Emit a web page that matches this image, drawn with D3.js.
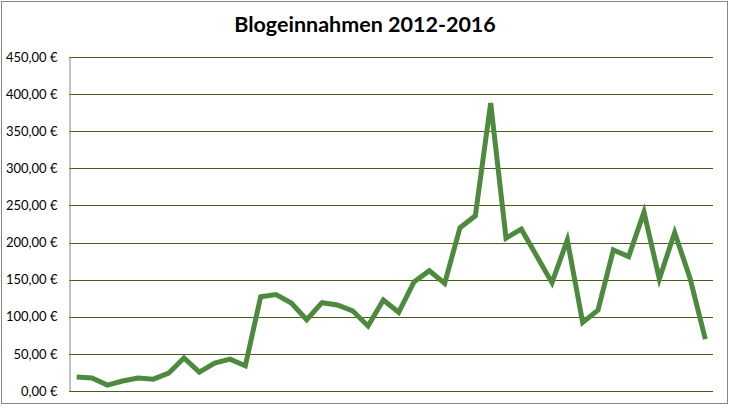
<!DOCTYPE html>
<html>
<head>
<meta charset="utf-8">
<script src="https://cdn.jsdelivr.net/npm/d3@7"></script>
<style>
  html, body { margin: 0; padding: 0; background: #fff; }
  svg { display: block; }
</style>
</head>
<body>
<script>
const title = "Blogeinnahmen 2012-2016";
const months = d3.range(1, 43).map(i => "M" + i);
const earnings = [19, 17.5, 8, 13.5, 17.5, 16, 24, 44.5, 25.5, 37.5, 43, 34,
  127, 130, 118.5, 96, 119, 116, 108, 87.5, 122.5, 106, 147, 162, 145,
  220, 236, 388, 206, 218, 182, 146, 203.5, 92.5, 109, 190, 181, 241,
  151, 213.5, 152, 70];
const yTicks = [0, 50, 100, 150, 200, 250, 300, 350, 400, 450];

const W = 730, H = 408;
const margin = { left: 69, right: 17, top: 57, bottom: 17 };
const svg = d3.select("body").append("svg").attr("width", W).attr("height", H);

svg.append("rect").attr("x", 1.5).attr("y", 1.5).attr("width", 726).attr("height", 402)
  .attr("fill", "#fff").attr("stroke", "#868686").attr("stroke-width", 1);

const x = d3.scalePoint().domain(months).range([margin.left, W - margin.right]).padding(0.5);
const y = d3.scaleLinear().domain([0, 450]).range([391, 57]);

const fmt = v => d3.format(".2f")(v).replace(".", ",") + " €";

// gridlines
svg.append("g").selectAll("line").data(yTicks).join("line")
  .attr("x1", margin.left).attr("x2", W - margin.right)
  .attr("y1", d => Math.round(y(d)) + 0.5).attr("y2", d => Math.round(y(d)) + 0.5)
  .attr("stroke", "#4a5e1c").attr("stroke-width", 1);

// y axis
const yAxis = d3.axisLeft(y).tickValues(yTicks).tickFormat(fmt).tickSize(0).tickPadding(12);
const gy = svg.append("g").attr("transform", `translate(${margin.left + 0.5},0)`).call(yAxis);
gy.select(".domain").attr("stroke", "#868686");
gy.selectAll("text").attr("font-family", "Lato, 'Open Sans', sans-serif")
  .attr("font-size", 13).attr("fill", "#000");

// line
svg.append("path").datum(earnings)
  .attr("fill", "none").attr("stroke", "#4e8a3e").attr("stroke-width", 5)
  .attr("stroke-linejoin", "miter").attr("stroke-linecap", "butt")
  .attr("d", d3.line().x((d, i) => x(months[i])).y(d => y(d)));

// title
svg.append("text").attr("x", 365).attr("y", 32).attr("text-anchor", "middle")
  .attr("font-family", "Lato, 'Open Sans', sans-serif").attr("font-weight", "bold")
  .attr("font-size", 21.5).attr("fill", "#000").text(title);
</script>
</body>
</html>
